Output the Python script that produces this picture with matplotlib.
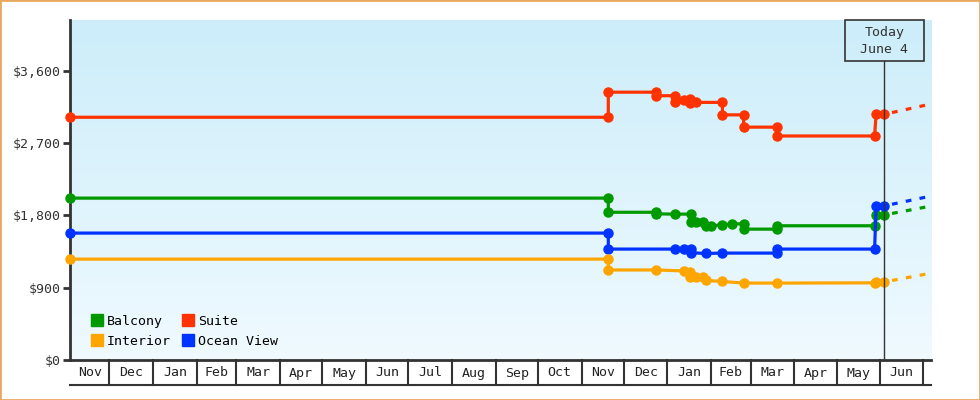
import matplotlib
matplotlib.use('Agg')
import numpy as np
import pandas as pd
import matplotlib.pyplot as plt
import matplotlib.dates as mdates
from matplotlib.lines import Line2D
from matplotlib.patches import Rectangle
from matplotlib.ticker import FuncFormatter

plt.rcParams['font.family'] = 'DejaVu Sans Mono'
plt.rcParams['font.size'] = 9.5

# price history (date, price) - pairs on same date make the steps
suite_dates = ['2021-11-03', '2022-11-20', '2022-11-20', '2022-12-24', '2022-12-24', '2023-01-06',
               '2023-01-06', '2023-01-13', '2023-01-17', '2023-01-17', '2023-01-21', '2023-02-09',
               '2023-02-09', '2023-02-24', '2023-02-24', '2023-03-20', '2023-03-20', '2023-05-28',
               '2023-05-29', '2023-06-04']
suite_prices = [3020, 3020, 3332, 3332, 3288, 3288, 3215, 3236, 3245, 3200, 3205, 3205,
                3050, 3050, 2897, 2897, 2787, 2787, 3058, 3058]

balcony_dates = ['2021-11-03', '2022-11-20', '2022-11-20', '2022-12-24', '2022-12-24', '2023-01-06',
                 '2023-01-18', '2023-01-18', '2023-01-21', '2023-01-26', '2023-01-28', '2023-02-01',
                 '2023-02-09', '2023-02-16', '2023-02-24', '2023-02-24', '2023-03-20', '2023-03-20',
                 '2023-05-28', '2023-05-29', '2023-06-04']
balcony_prices = [2014, 2014, 1838, 1838, 1818, 1815, 1815, 1723, 1723, 1711, 1670, 1670,
                  1682, 1694, 1694, 1628, 1628, 1670, 1670, 1806, 1806]

ocean_dates = ['2021-11-03', '2022-11-20', '2022-11-20', '2023-01-06', '2023-01-13', '2023-01-18',
               '2023-01-18', '2023-01-28', '2023-02-09', '2023-03-20', '2023-03-20', '2023-05-28',
               '2023-05-29', '2023-06-04']
ocean_prices = [1579, 1579, 1380, 1380, 1380, 1380, 1335, 1325, 1330, 1330, 1380, 1380, 1918, 1918]

interior_dates = ['2021-11-03', '2022-11-20', '2022-11-20', '2022-12-24', '2023-01-13', '2023-01-17',
                  '2023-01-17', '2023-01-21', '2023-01-26', '2023-01-28', '2023-02-09', '2023-02-24',
                  '2023-03-20', '2023-05-28', '2023-05-29', '2023-06-04']
interior_prices = [1255, 1255, 1120, 1120, 1108, 1100, 1035, 1032, 1032, 990, 977, 957,
                   957, 960, 972, 972]

# projected prices (dashed)
proj_dates = ['2023-06-04', '2023-07-07']
suite_proj = [3058, 3185]
balcony_proj = [1806, 1915]
ocean_proj = [1918, 2040]
interior_proj = [972, 1080]

names = ['Balcony', 'Interior', 'Suite', 'Ocean View']
colors = {'Suite': '#FF3300', 'Balcony': '#009900', 'Ocean View': '#0033FF', 'Interior': '#FFA500'}
yticks = [0, 900, 1800, 2700, 3600]
today = '2023-06-04'
x_start, x_end = '2021-11-03', '2023-07-07'

fig = plt.figure(figsize=(9.8, 4), dpi=100)
ax = fig.add_axes([70/980, 40/400, 861/980, 340/400])

# background gradient
grad = np.linspace(0, 1, 256).reshape(-1, 1)
top = np.array([0.80, 0.93, 0.98])
bot = np.array([0.94, 0.98, 1.0])
img = top * (1 - grad)[:, :, None] + bot * grad[:, :, None]
ax.imshow(img, extent=[0, 1, 0, 1], transform=ax.transAxes, aspect='auto', zorder=0)

series = [
    ('Suite', suite_dates, suite_prices, suite_proj),
    ('Balcony', balcony_dates, balcony_prices, balcony_proj),
    ('Ocean View', ocean_dates, ocean_prices, ocean_proj),
    ('Interior', interior_dates, interior_prices, interior_proj),
]
for name, d, p, proj in series:
    c = colors[name]
    ax.plot(pd.to_datetime(d), p, color=c, lw=2.3, marker='o', ms=6.5,
            clip_on=False, zorder=3)
    ax.plot(pd.to_datetime(proj_dates), proj, color=c, lw=2.3, ls=(2, (1.8, 2.6)),
            zorder=3)

ax.set_xlim(pd.Timestamp(x_start), pd.Timestamp(x_end))
ax.set_ylim(0, 4230)
ax.set_yticks(yticks)
ax.yaxis.set_major_formatter(FuncFormatter(lambda v, pos: f'${v:,.0f}'))
ax.set_xticks([])
for s in ['top', 'right']:
    ax.spines[s].set_visible(False)
for s in ['left', 'bottom']:
    ax.spines[s].set_linewidth(2)
    ax.spines[s].set_color('#333333')
ax.tick_params(axis='y', length=5, width=2, color='#333333', labelcolor='#333333', pad=2)

# today marker
t = mdates.date2num(pd.Timestamp(today))
box_w = 80 / 1.4097
ax.plot([t, t], [0, 3725], color='#333333', lw=1, zorder=4)
ax.add_patch(Rectangle((t - box_w / 2, 3725), box_w, 4230 - 3725, fill=False,
                       ec='#333333', lw=1.2, zorder=4, clip_on=False))
ax.text(t, 3970, 'Today\nJune 4', ha='center', va='center', linespacing=1.45,
        color='#333333', zorder=5)

# legend
handles = [Line2D([], [], ls='none', marker='s', ms=8, color=colors[n]) for n in names]
ax.legend(handles, names, ncol=2, loc='lower left', bbox_to_anchor=(0.012, 0.004),
          frameon=False, handlelength=0.9, handletextpad=0.3, columnspacing=0.85,
          labelspacing=0.53, borderpad=0.3)

# month row below the plot
rax = fig.add_axes([70/980, 15/400, 861/980, 25/400])
rax.set_xlim(pd.Timestamp(x_start), pd.Timestamp(x_end))
rax.set_ylim(0, 1)
rax.axis('off')
rax.plot([0, 1], [0, 0], transform=rax.transAxes, color='#333333', lw=1.5, clip_on=False)
months = pd.date_range('2021-11-01', '2023-08-01', freq='MS')
xs, xe = pd.Timestamp(x_start), pd.Timestamp(x_end)
for m0, m1 in zip(months[:-1], months[1:]):
    a, b = max(m0, xs), min(m1, xe)
    if m0 > xs:
        rax.plot([m0, m0], [0, 1], color='#333333', lw=1.5, clip_on=False)
    if (b - a).days > 15:
        rax.text(a + (b - a) / 2, 0.48, m0.strftime('%b'), ha='center', va='center',
                 color='#222222')

fig.patches.append(Rectangle((0, 0), 1, 1, transform=fig.transFigure, fill=False,
                             ec='#E8A860', lw=2))

fig.savefig('out.png', dpi=100)
